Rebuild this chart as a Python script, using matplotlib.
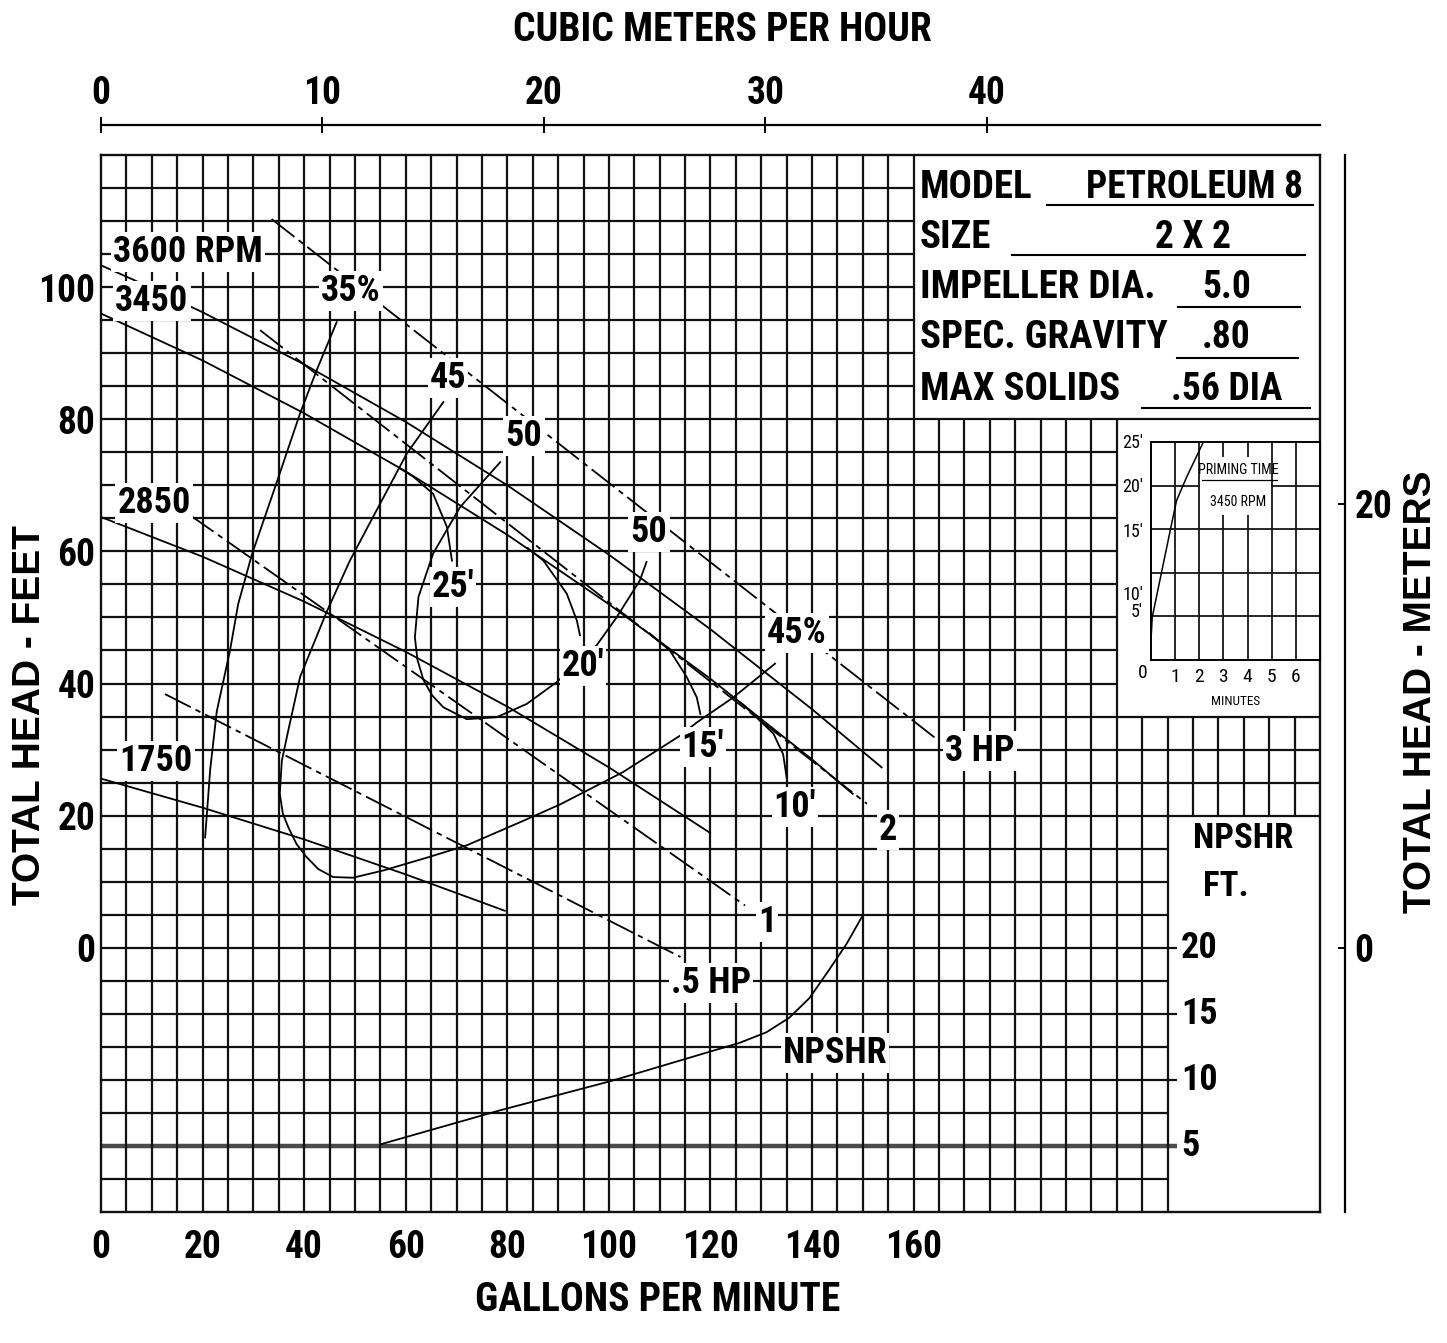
import matplotlib
matplotlib.use("Agg")
import matplotlib.pyplot as plt
from matplotlib.lines import Line2D
from matplotlib.patches import Rectangle

W, H = 1447, 1343
NARROW = ["Roboto Condensed", "Archivo Narrow", "Liberation Sans Narrow", "DejaVu Sans"]
WIDE = ["Liberation Sans", "Arimo", "DejaVu Sans"]
plt.rcParams["font.family"] = NARROW

# Head-capacity curves (gallons per minute, total head in feet)
q_3600 = [0, 6.7, 20, 40, 60, 80, 100, 120, 140, 153.7]
h_3600 = [103.3, 101.0, 96.2, 88.3, 79.6, 70.0, 59.5, 48.2, 36.1, 27.3]
q_3450 = [0, 20, 40, 60, 80, 100, 120, 140, 148]
h_3450 = [96.0, 88.9, 80.9, 72.1, 62.5, 52.0, 40.7, 28.5, 23.3]
q_2850 = [0, 20, 40, 60, 80, 100, 119.9]
h_2850 = [65.2, 59.2, 52.4, 44.8, 36.5, 27.3, 17.4]
q_1750 = [0, 20, 40, 60, 79.5]
h_1750 = [25.6, 21.2, 16.4, 11.1, 5.6]

# Horsepower lines
q_3hp = [33.6, 164.5]
h_3hp = [110.3, 31.6]
q_2hp = [31.3, 150.8]
h_2hp = [93.5, 21.8]
q_1hp = [17.5, 126.8]
h_1hp = [65.5, 6.4]
q_05hp = [12.6, 114.1]
h_05hp = [38.4, -1.4]

# Efficiency curves
q_eff35 = [46.4, 42.5, 39.2, 34.4, 29.7, 27.0, 25.4, 22.8, 21.5, 20.5]
h_eff35 = [94.7, 87.5, 80.9, 70.0, 59.5, 52.0, 45.0, 35.8, 27.0, 16.7]
q_eff45 = [67.4, 60.2, 53.0, 49.0, 44.4, 39.2, 36.9, 35.6, 35.2, 35.8, 36.9, 38.5,
           40.5, 42.8, 45.7, 49.6, 55.6, 64.0, 72.0, 82.5, 90.4, 102.8, 114.0, 117.3,
           124.5, 132.7]
h_eff45 = [82.6, 74.8, 64.4, 58.6, 50.8, 41.0, 33.0, 28.3, 23.3, 20.3, 18.2, 15.7,
           13.7, 11.9, 10.7, 10.6, 11.7, 13.6, 15.5, 19.0, 21.7, 26.6, 32.1, 34.1,
           37.9, 43.0]
q_eff50 = [78.6, 70.7, 65.4, 62.5, 61.8, 62.3, 63.5, 65.2, 67.4, 72.0, 77.9, 83.8,
           89.7, 97.6, 101.5, 106.1, 107.4]
h_eff50 = [73.5, 66.7, 59.7, 53.1, 47.0, 43.6, 40.5, 38.2, 36.4, 34.6, 34.9, 36.9,
           40.2, 45.8, 50.0, 55.6, 58.4]

# Suction lift curves
q_lift25 = [59.0, 61.5, 65.4, 68.1, 69.1]
h_lift25 = [72.5, 71.3, 68.7, 63.7, 58.6]
q_lift20 = [84.0, 87.1, 91.7, 93.7, 94.3]
h_lift20 = [60.5, 58.6, 53.6, 49.5, 47.3]
q_lift15 = [108.0, 112.0, 115.3, 117.3, 118.0]
h_lift15 = [47.6, 45.0, 41.0, 37.9, 35.4]
q_lift10 = [126.0, 129.7, 132.4, 134.3, 135.0]
h_lift10 = [37.1, 34.4, 32.4, 29.3, 25.7]

# NPSHR (ft, on its own scale)
q_npsh = [55.3, 78.6, 100.3, 125.7, 131.0, 135.5, 139.5, 143.3, 146.8, 149.9]
npsh_ft = [5.15, 7.7, 9.9, 12.8, 13.6, 14.7, 16.2, 18.3, 20.3, 22.4]

# Priming time inset
prime_min = [0, 0.05, 0.86, 1.06, 1.48, 2.17]
prime_ft = [2.3, 4.9, 15.7, 18.3, 21.0, 25.0]

gpm_ticks = [0, 20, 40, 60, 80, 100, 120, 140, 160]
head_ticks = [0, 20, 40, 60, 80, 100]
m3h_ticks = [0, 10, 20, 30, 40]
meter_ticks = [0, 20]
npsh_ticks = [20, 15, 10, 5]
minute_ticks = [0, 1, 2, 3, 4, 5, 6]

table_keys = ["MODEL", "SIZE", "IMPELLER DIA.", "SPEC. GRAVITY", "MAX SOLIDS"]
table_vals = ["PETROLEUM 8", "2 X 2", "5.0", ".80", ".56 DIA"]


def fx(x):
    return x / W


def fy(y):
    return 1 - y / H


def npsh_to_head(n):
    return 2 * (n - 20)


fig = plt.figure(figsize=(W / 100, H / 100), dpi=100)
ax = fig.add_axes([fx(101), fy(1212), (1320 - 101) / W, (1212 - 155) / H])
ax.set_xlim(0, 240)
ax.set_ylim(-40, 120)
for s in ax.spines.values():
    s.set_linewidth(1.7)
    s.set_color("#111111")

# grid, with the white areas for the table, inset and NPSHR scale
GRID = dict(color="#111111", lw=1.6, zorder=1, solid_capstyle="butt")
for h in range(-35, 120, 5):
    if h == -30:
        continue
    if h > 80:
        xmax = 160
    elif h in (80, 35):
        xmax = 240
    elif h > 35:
        xmax = 200
    elif h >= 20:
        xmax = 240
    elif h <= 0 and h % 10 == 0:
        xmax = 211.8
    else:
        xmax = 210
    ax.plot([0, xmax], [h, h], **GRID)
ax.plot([0, 211.8], [-30, -30], color="#4a4a4a", lw=3.2, zorder=1, solid_capstyle="butt")
for q in range(5, 240, 5):
    if q <= 160:
        lo, hi = -40, 120
    elif q <= 200:
        lo, hi = -40, 80
    elif q <= 210:
        lo, hi = -40, 35
    else:
        lo, hi = 20, 35
    ax.plot([q, q], [lo, hi], **GRID)

CURVE = dict(color="black", lw=1.3, zorder=3)
DASH = dict(color="black", lw=1.3, zorder=3, linestyle=(0, (16, 3, 3, 3)))
for q, h in [(q_3600, h_3600), (q_3450, h_3450), (q_2850, h_2850), (q_1750, h_1750),
             (q_eff35, h_eff35), (q_eff45, h_eff45), (q_eff50, h_eff50),
             (q_lift25, h_lift25), (q_lift20, h_lift20), (q_lift15, h_lift15),
             (q_lift10, h_lift10)]:
    ax.plot(q, h, **CURVE)
for q, h in [(q_3hp, h_3hp), (q_2hp, h_2hp), (q_1hp, h_1hp), (q_05hp, h_05hp)]:
    ax.plot(q, h, **DASH)
ax.plot(q_npsh, [npsh_to_head(n) for n in npsh_ft], **CURVE)

# axis ticks
LBL = dict(fontsize=27, fontweight=600)
ax.set_xticks(gpm_ticks)
ax.set_xticklabels([str(v) for v in gpm_ticks], **LBL)
ax.set_yticks(head_ticks)
ax.set_yticklabels([str(v) for v in head_ticks], **LBL)
ax.tick_params(axis="x", length=0, pad=12)
ax.tick_params(axis="y", length=0, pad=4)

top = ax.secondary_xaxis("top", functions=(lambda q: q / 4.36, lambda m: m * 4.36))
top.spines["top"].set_position(("outward", 21.6))
top.spines["top"].set_linewidth(1.6)
top.set_xticks(m3h_ticks)
top.set_xticklabels([str(v) for v in m3h_ticks], **LBL)
top.tick_params(direction="inout", length=11, width=1.4, pad=4)

right = ax.secondary_yaxis("right", functions=(lambda h: h / 3.36, lambda m: m * 3.36))
right.spines["right"].set_position(("outward", 18))
right.spines["right"].set_linewidth(1.6)
right.set_yticks(meter_ticks)
right.set_yticklabels([str(v) for v in meter_ticks], **LBL)
right.tick_params(direction="in", length=5, width=1.4, pad=7)

for n in npsh_ticks:
    ax.text(212.6, npsh_to_head(n), str(n), fontsize=26, fontweight=600, ha="left", va="center")
fig.text(fx(1243), fy(838), "NPSHR", fontsize=25, fontweight=600, ha="center", va="center")
fig.text(fx(1226), fy(887), "FT.", fontsize=25, fontweight=600, ha="center", va="center")

# titles
fig.text(fx(722), fy(30), "CUBIC METERS PER HOUR", fontsize=28.5, weight="bold",
         ha="center", va="center")
fig.text(fx(658), fy(1300), "GALLONS PER MINUTE", fontsize=28.5, weight="bold",
         ha="center", va="center")
fig.text(fx(30), fy(715), "TOTAL HEAD - FEET", fontsize=28, weight="bold",
         family=WIDE, rotation=90, ha="center", va="center")
fig.text(fx(1421), fy(692), "TOTAL HEAD - METERS", fontsize=28, weight="bold",
         family=WIDE, rotation=90, ha="center", va="center")

# curve labels
BOX = dict(facecolor="white", edgecolor="none", pad=1.5)
labels = [("3600 RPM", 188, 252), ("3450", 152, 301), ("2850", 154, 503),
          ("1750", 156, 761), ("35%", 351, 291), ("45", 448, 378), ("50", 524, 436),
          ("50", 649, 532), ("45%", 797, 633), ("25'", 453, 587), ("20'", 583, 666),
          ("15'", 703, 747), ("10'", 795, 807), ("3 HP", 980, 751), ("2", 888, 830),
          ("1", 767, 922), (".5 HP", 711, 983), ("NPSHR", 835, 1053)]
for s, x, y in labels:
    fig.text(fx(x), fy(y), s, fontsize=26, fontweight=600, ha="center", va="center",
             bbox=BOX, zorder=5)

# data table
key_y = [187, 238, 288, 338, 390]
val_x = [1195, 1193, 1227, 1226, 1227]
line_x = [(1047, 1313), (1012, 1305), (1178, 1300), (1177, 1298), (1142, 1310)]
line_y = [205, 255, 307, 358, 408]
for k, v, y, vx, (x0, x1), ly in zip(table_keys, table_vals, key_y, val_x, line_x, line_y):
    fig.text(fx(920), fy(y), k, fontsize=28, weight="bold", ha="left", va="center")
    fig.text(fx(vx), fy(y), v, fontsize=27, weight="bold", ha="center", va="center")
    fig.add_artist(Line2D([fx(x0), fx(x1)], [fy(ly), fy(ly)], color="black", lw=1.5,
                          transform=fig.transFigure))

# priming time inset
ins = fig.add_axes([fx(1151), fy(660), 169 / W, 218 / H])
ins.set_xlim(0, 7)
ins.set_ylim(0, 25)
ins.set_xticks([])
ins.set_yticks([])
for s in ins.spines.values():
    s.set_linewidth(1.4)
for m in minute_ticks[1:]:
    ins.plot([m, m], [0, 25], color="#161616", lw=1.3, zorder=1)
for f in (5, 10, 15, 20):
    ins.plot([0, 7], [f, f], color="#161616", lw=1.3, zorder=1)
ins.add_patch(Rectangle((2.05, 16.6), 2.9, 6.7, facecolor="white", edgecolor="none", zorder=2))
ins.plot(prime_min, prime_ft, color="black", lw=1.1, zorder=3)
ins.text(3.6, 21.8, "PRIMING TIME", fontsize=10, ha="center", va="center", zorder=4)
ins.plot([2.1, 5.2], [20.6, 20.6], color="black", lw=0.9, zorder=4, clip_on=False)
ins.text(3.6, 18.1, "3450 RPM", fontsize=10, ha="center", va="center", zorder=4)
for m in minute_ticks:
    ins.text(m if m else -0.33, -2.0 if m else -1.5, str(m), fontsize=14, ha="center", va="center")
ins.text(3.5, -4.8, "MINUTES", fontsize=9.5, ha="center", va="center")
for s, y in [("25'", 24.9), ("20'", 19.8), ("15'", 14.7), ("10'", 7.5)]:
    ins.text(-0.75, y, s, fontsize=13, ha="center", va="center")
ins.text(-0.58, 5.5, "5'", fontsize=13, ha="center", va="center")

fig.savefig("out.png", dpi=100, facecolor="white")
